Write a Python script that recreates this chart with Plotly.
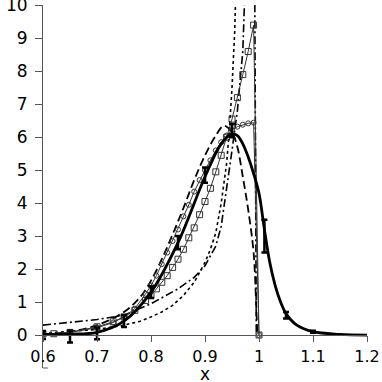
import plotly.graph_objects as go

# thick solid curve (with error bars)
thick_x = [0.60, 0.65, 0.70, 0.75, 0.80, 0.85, 0.90, 0.93, 0.95, 0.96, 0.97, 0.98, 0.99,
           1.00, 1.01, 1.02, 1.03, 1.04, 1.05, 1.07, 1.10, 1.15, 1.20]
thick_y = [0.02, 0.03, 0.08, 0.42, 1.3, 2.8, 4.8, 5.8, 6.1, 6.05, 5.8, 5.4, 4.9,
           4.3, 3.2, 2.2, 1.5, 1.0, 0.65, 0.3, 0.1, 0.02, 0.0]
bar_x = [0.60, 0.65, 0.70, 0.75, 0.80, 0.85, 0.90, 0.95, 1.01, 1.05, 1.10]
bar_y = [0.0, -0.05, 0.05, 0.42, 1.3, 2.8, 4.85, 6.2, 3.0, 0.6, 0.1]
bar_err = [0.12, 0.18, 0.18, 0.18, 0.18, 0.2, 0.23, 0.2, 0.5, 0.1, 0.03]

# long dashed curve
dash_x = [0.60, 0.65, 0.70, 0.75, 0.78, 0.80, 0.82, 0.84, 0.86, 0.88, 0.90, 0.92, 0.935,
          0.95, 0.96, 0.97, 0.98, 0.99, 0.995, 0.997]
dash_y = [0.02, 0.1, 0.3, 0.7, 1.15, 1.65, 2.3, 3.05, 3.85, 4.7, 5.45, 6.05, 6.35,
          6.15, 5.7, 4.8, 3.8, 2.5, 0.8, 0.0]

# fine dotted curve
dot_x = [0.60, 0.65, 0.70, 0.75, 0.78, 0.80, 0.82, 0.84, 0.86, 0.88, 0.90, 0.91, 0.92,
         0.93, 0.94, 0.945, 0.95, 0.955, 0.958]
dot_y = [0.05, 0.1, 0.17, 0.3, 0.42, 0.55, 0.7, 0.9, 1.2, 1.6, 2.2, 2.6, 3.1,
         4.0, 5.2, 6.2, 7.5, 9.2, 11.0]

# dash-dot curve (two branches)
dd_x = [0.60, 0.65, 0.70, 0.75, 0.80, 0.85, 0.88, 0.90, 0.92, 0.93, 0.94, 0.95, 0.96,
        0.965, 0.97, 0.975, None, 0.992, 0.995]
dd_y = [0.3, 0.38, 0.47, 0.6, 0.95, 1.4, 1.75, 2.1, 2.7, 3.3, 4.4, 5.6, 6.8,
        7.6, 8.6, 11.0, None, 11.0, 0.0]

# thin solid with squares
sq_x = [0.60, 0.62, 0.65, 0.70, 0.73, 0.75, 0.77, 0.79, 0.80, 0.81, 0.82, 0.83, 0.84,
        0.85, 0.86, 0.87, 0.88, 0.89, 0.90, 0.91, 0.92, 0.93, 0.94, 0.95, 0.96, 0.97,
        0.98, 0.99, 1.00]
sq_y = [0.03, 0.04, 0.08, 0.25, 0.4, 0.55, 0.75, 1.05, 1.2, 1.4, 1.6, 1.8, 2.05,
        2.3, 2.6, 2.95, 3.25, 3.65, 4.05, 4.45, 4.95, 5.45, 6.0, 6.55, 7.2, 7.9,
        8.6, 9.4, 0.0]

# thin solid with circles
ci_x = [0.60, 0.65, 0.70, 0.73, 0.75, 0.77, 0.79, 0.80, 0.81, 0.82, 0.83, 0.84, 0.85,
        0.86, 0.87, 0.88, 0.89, 0.90, 0.91, 0.92, 0.93, 0.94, 0.95, 0.96, 0.97, 0.98,
        0.99, 1.00]
ci_y = [0.03, 0.08, 0.22, 0.38, 0.55, 0.8, 1.25, 1.5, 1.8, 2.15, 2.5, 2.85, 3.2,
        3.6, 3.95, 4.35, 4.7, 5.0, 5.3, 5.6, 5.85, 6.05, 6.22, 6.32, 6.38, 6.42,
        6.44, 0.0]

x_ticks = [0.6, 0.7, 0.8, 0.9, 1.0, 1.1, 1.2]
x_labels = ["0.6", "0.7", "0.8", "0.9", "1", "1.1", "1.2"]
y_ticks = list(range(0, 11))

fig = go.Figure()

fig.add_trace(go.Scatter(x=dot_x, y=dot_y, mode="lines",
                         line=dict(color="black", width=1.6, dash="dot")))
fig.add_trace(go.Scatter(x=dd_x, y=dd_y, mode="lines", connectgaps=False,
                         line=dict(color="black", width=1.6, dash="8px,3px,2px,3px")))
fig.add_trace(go.Scatter(x=dash_x, y=dash_y, mode="lines", line_shape="spline",
                         line=dict(color="black", width=1.8, dash="8px,4px")))
fig.add_trace(go.Scatter(x=sq_x, y=sq_y, mode="lines+markers",
                         line=dict(color="#333", width=1),
                         marker=dict(symbol="square-open", size=6, color="#333",
                                     line=dict(width=1))))
fig.add_trace(go.Scatter(x=ci_x, y=ci_y, mode="lines+markers",
                         line=dict(color="#333", width=1),
                         marker=dict(symbol="circle-open", size=5, color="#333",
                                     line=dict(width=1))))
fig.add_trace(go.Scatter(x=thick_x, y=thick_y, mode="lines", line_shape="spline",
                         line=dict(color="black", width=2.8)))
fig.add_trace(go.Scatter(x=bar_x, y=bar_y, mode="markers",
                         marker=dict(size=1, color="black"),
                         error_y=dict(type="data", array=bar_err, color="black",
                                      thickness=2.5, width=3)))

fig.update_layout(
    width=382, height=382,
    margin=dict(l=43, r=15, t=5, b=14),
    plot_bgcolor="white", paper_bgcolor="white",
    showlegend=False,
    font=dict(family="DejaVu Sans, sans-serif", size=17, color="black"),
)

fig.update_xaxes(
    range=[0.6, 1.2], tickvals=x_ticks, ticktext=x_labels,
    anchor="free", position=1 / 11, automargin=False,
    showline=True, linecolor="#555", linewidth=1,
    ticks="outside", ticklen=6, tickcolor="#555", ticklabelstandoff=1,
    tickfont=dict(size=16),
    showgrid=False, zeroline=False, ticklabeloverflow="allow",
)
fig.update_yaxes(
    range=[-1, 10.01], tickvals=y_ticks, automargin=False,
    showline=True, linecolor="#555", linewidth=1,
    ticks="outside", ticklen=7, tickcolor="#555", ticklabelstandoff=4,
    showgrid=False, zeroline=False, ticklabeloverflow="allow",
)

# axis title placed under the tick labels
fig.add_annotation(text="x", xref="paper", yref="paper", x=0.5, y=0,
                   xanchor="center", yanchor="middle", yshift=-6,
                   showarrow=False, font=dict(size=17))

fig.add_shape(type="line", xref="paper", yref="paper", x0=0, x1=0.015, y0=0, y1=0,
              line=dict(color="#555", width=1))

# page body margin would shift the figure
fig.write_html("out.html", config={"displayModeBar": False},
               post_script="document.body.style.margin='0';")
